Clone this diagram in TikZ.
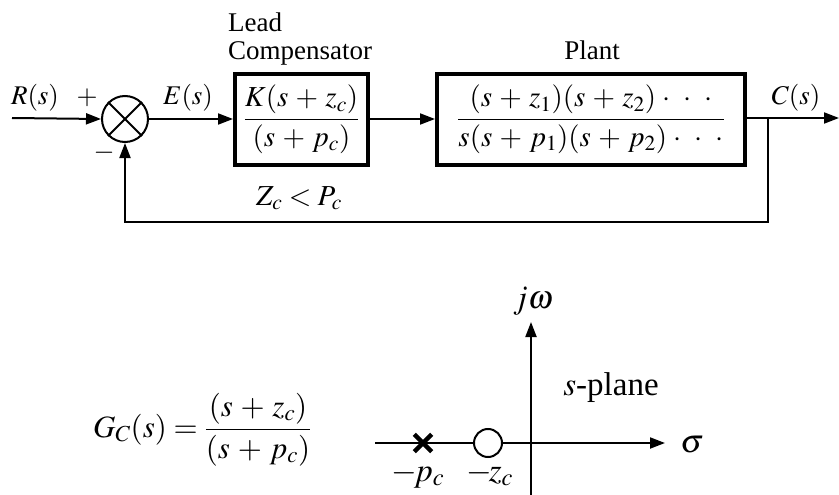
\documentclass[tikz,border=0pt]{standalone}
\usepackage{amsmath}
\usepackage{mathptmx}
\usepackage{fontspec}
\setmainfont{Liberation Serif}
\usetikzlibrary{arrows.meta}
\newcommand{\bdots}{\;\mathord{\cdot}\;\;\mathord{\cdot}\;\;\mathord{\cdot}}
\newcommand{\pl}{\mathbin{\,+\,}}
\begin{document}
\begin{tikzpicture}[x=1pt,y=-1pt,
  font=\fontsize{27}{30}\selectfont,
  wire/.style={line width=2pt},
  arr/.style={wire,-{Triangle[length=15pt,width=11pt]}},
  blk/.style={draw,line width=4pt,inner sep=0pt,font=\fontsize{29}{32}\selectfont},
  lbl/.style={inner sep=0pt},
  big/.style={inner sep=0pt,font=\fontsize{33}{36}\selectfont}]
\useasboundingbox (0,0) rectangle (839,495);
% top block diagram
\coordinate (in) at (12,118);
\node[draw,circle,wire,minimum size=46pt,inner sep=0pt] (sum) at (125,119) {};
\draw[wire] (sum.north west) -- (sum.south east);
\draw[wire] (sum.north east) -- (sum.south west);
\node[blk,minimum width=133pt,minimum height=91pt] (lead) at (301.5,119.5) {$\dfrac{K(s\pl z_c)}{(s\pl p_c)}$};
\node[blk,minimum width=308pt,minimum height=91pt] (plant) at (591,119.5) {$\dfrac{(s\pl z_1)(s\pl z_2)\bdots}{s(s\pl p_1)(s\pl p_2)\bdots}$};
\coordinate (br) at (768,118);
\coordinate (out) at (839,118);
\coordinate (fb) at (768,222);
\draw[arr] (in) -- (sum.west);
\draw[arr] (sum.east) -- (lead.west |- sum.east);
\draw[arr] (lead.east |- sum.east) -- (plant.west |- sum.east);
\draw[wire] (plant.east |- br) -- (br);
\draw[arr] (br) -- (out);
\draw[arr] (br) -- (fb) -| (sum.south);
\node[lbl,anchor=base] (R) at (35,105) {$R(s)$};
\node[lbl,anchor=base] (plus) at (87,105) {$+$};
\node[lbl,anchor=base] (minus) at (104,160) {$-$};
\node[lbl,anchor=base] (E) at (188,105) {$E(s)$};
\node[lbl,anchor=base] (C) at (796,105) {$C(s)$};
\node[lbl,anchor=base west] (leadt) at (228,32) {Lead};
\node[lbl,anchor=base west] (comp) at (228,60) {Compensator};
\node[lbl,anchor=base] (plantt) at (592,60) {Plant};
\node[lbl,anchor=base,font=\fontsize{29}{32}\selectfont] (zp) at (299,205) {$Z_c<P_c$};
% bottom
\node[anchor=base west,inner sep=0pt,font=\fontsize{31}{34}\selectfont] (gc) at (93,437) {$G_C(s)=\dfrac{(s\pl z_c)}{(s\pl p_c)}$};
\coordinate (xl) at (375,443);
\coordinate (xr) at (665,443);
\coordinate (yb) at (531,495);
\coordinate (yt) at (531,322);
\draw[arr] (xl) -- (xr);
\draw[arr] (yb) -- (yt);
\node[big,anchor=base] (sig) at (692,452) {$\sigma$};
\node[big,anchor=base] (jw) at (533,308) {$j\omega$};
\node[big,anchor=base] (sp) at (611,395) {$s$-plane};
\node[inner sep=0pt,minimum size=17pt] (pole) at (423,443) {};
\draw[line width=4.5pt] (pole.north west) -- (pole.south east);
\draw[line width=4.5pt] (pole.north east) -- (pole.south west);
\node[draw,circle,wire,fill=white,minimum size=28pt,inner sep=0pt] (zero) at (488,443) {};
\node[big,anchor=base] (pl) at (418,481) {$\mathord{-}\!p_c$};
\node[big,anchor=base] (zl) at (490,481) {$\mathord{-}\!z_c$};
\end{tikzpicture}
\end{document}
